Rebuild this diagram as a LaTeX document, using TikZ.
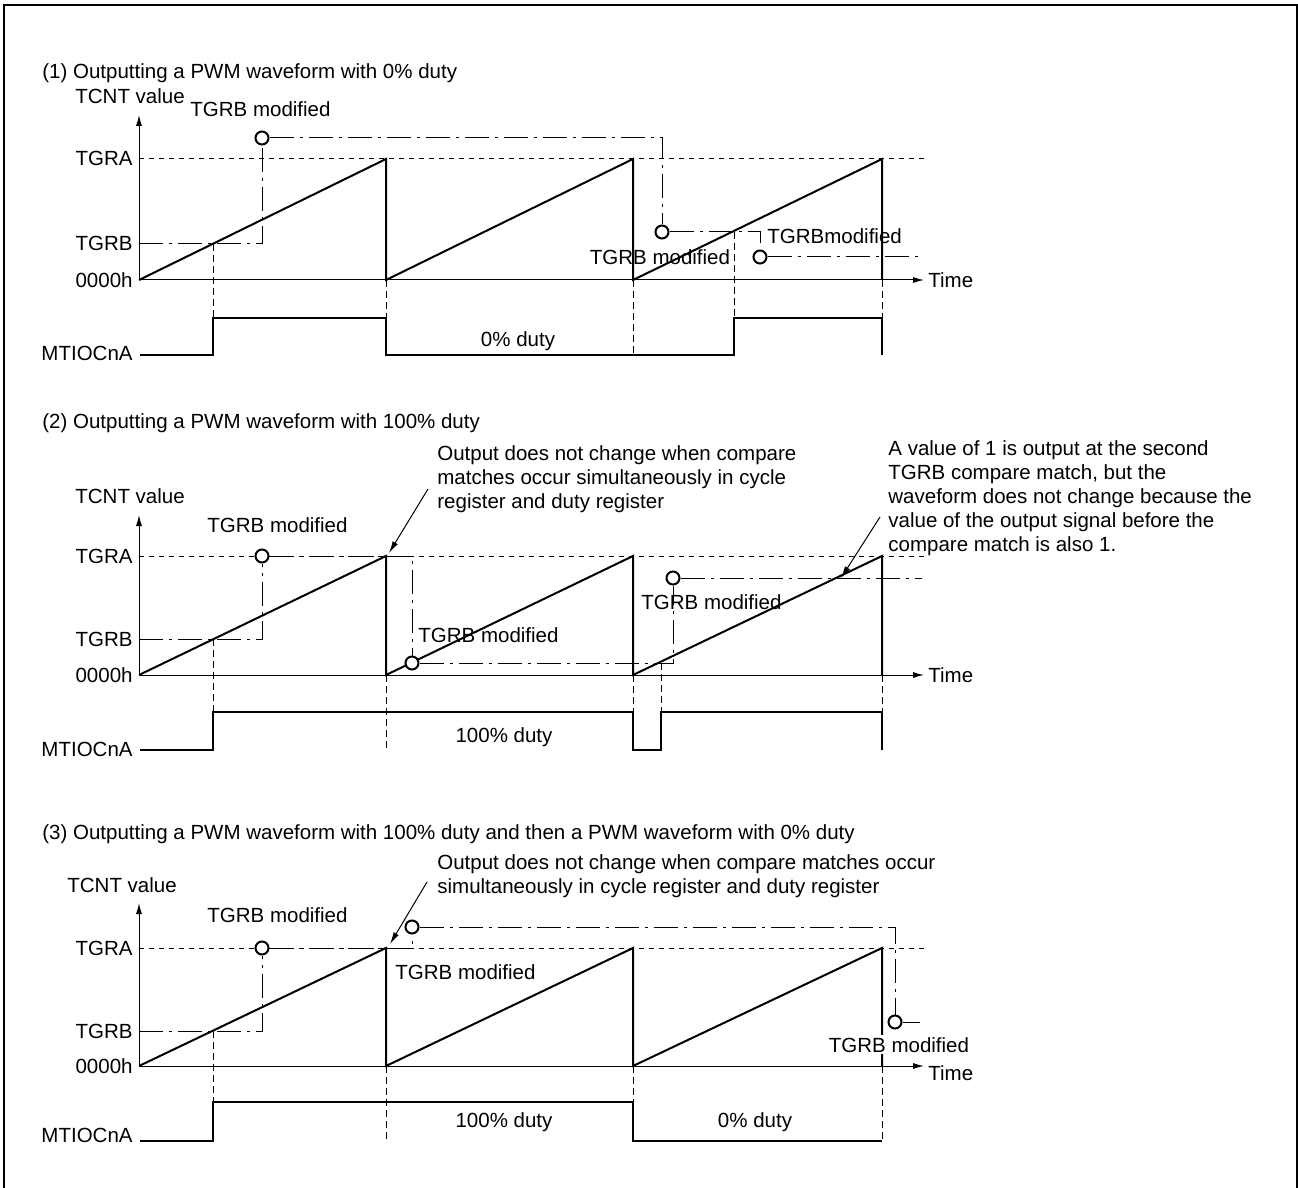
\documentclass[tikz,border=0pt]{standalone}
\usepackage{fontspec}
\setmainfont{Liberation Sans}
\usetikzlibrary{arrows,arrows.meta,positioning,calc}

\begin{document}
\begin{tikzpicture}[
    x=0.5pt, y=-0.5pt,
    every node/.style={inner sep=0pt, font=\fontsize{10.25}{12}\selectfont},
    wave/.style={line width=1pt},
    axis/.style={line width=0.5pt, -{Latex[length=5.5pt,width=3pt]}},
    level/.style={line width=0.5pt, dash pattern=on 2.5pt off 2.5pt},
    guide/.style={line width=0.5pt, dash pattern=on 3.5pt off 2pt},
    modline/.style={line width=0.5pt, dash pattern=on 12pt off 3pt on 1.5pt off 3pt},
    modmark/.style={circle, draw, fill=white, line width=1pt, minimum size=6.5pt},
    note/.style={align=left, anchor=north west},
    notearrow/.style={line width=0.5pt, -{Latex[length=6pt,width=3pt]}}
]
\useasboundingbox (0,0) rectangle (1298,1188);
\draw[line width=1pt] (3.7,5) rectangle (1296.5,1195);

% (1) 0% duty
\node[anchor=base west] (t1) at (42,79) {(1) Outputting a PWM waveform with 0\% duty};
\node[anchor=base west] (v1) at (75,104) {TCNT value};
\node[anchor=base east] (a1) at (133,166) {TGRA};
\node[anchor=base east] (b1) at (133,251) {TGRB};
\node[anchor=base east] (z1) at (133,287) {0000h};
\node[anchor=base east] (o1) at (133,360) {MTIOCnA};
\node[anchor=base west] (tm1) at (928,287) {Time};
\draw[level] (139,159) -- (925,159);
\draw[axis] (139,280) -- (139,115);
\draw[axis] (139,280) -- (924,280);
\draw[wave] (139,280) -- (386,159) -- (386,280) -- (633,159) -- (633,280) -- (882,159) -- (882,280);
\draw[wave] (140,355) -- (213,355) -- (213,318) -- (386,318) -- (386,355) -- (734,355) -- (734,318) -- (882,318) -- (882,355);
\draw[guide] (213,244) -- (213,318) (386,280) -- (386,318) (633,280) -- (633,355) (734,232) -- (734,318) (882,280) -- (882,318);
\node[modmark] (c11) at (262,138) {};
\node[modmark] (c12) at (662,232) {};
\node[modmark] (c13) at (760,257) {};
\draw[modline] (139,244) -| (c11);
\draw[modline] (c11) -| (c12);
\draw[modline] (c12) -| (c13);
\draw[modline] (c13) -- (922,257);
\node[anchor=base west] (m11) at (190,117) {TGRB modified};
\node[anchor=base] (m12) at (660,264) {TGRB modified};
\node[anchor=base west] (m13) at (767,244) {TGRBmodified};
\node[anchor=base] (d1) at (518,347) {0\% duty};

% (2) 100% duty
\node[anchor=base west] (t2) at (42,429) {(2) Outputting a PWM waveform with 100\% duty};
\node[anchor=base west] (v2) at (75,503) {TCNT value};
\node[anchor=base east] (a2) at (133,563) {TGRA};
\node[anchor=base east] (b2) at (133,646) {TGRB};
\node[anchor=base east] (z2) at (133,682) {0000h};
\node[anchor=base east] (o2) at (133,756) {MTIOCnA};
\node[anchor=base west] (tm2) at (928,682) {Time};
\draw[level] (139,556) -- (925,556);
\draw[axis] (139,675) -- (139,515);
\draw[axis] (139,675) -- (924,675);
\draw[wave] (139,675) -- (386,556) -- (386,675) -- (633,556) -- (633,675) -- (882,556) -- (882,675);
\draw[wave] (140,750) -- (213,750) -- (213,712) -- (633,712) -- (633,750) -- (661,750) -- (661,712) -- (882,712) -- (882,750);
\draw[guide] (213,639) -- (213,712) (386,675) -- (386,750) (633,675) -- (633,712) (661,663) -- (661,712) (882,675) -- (882,712);
\node[modmark] (c21) at (262,556) {};
\node[modmark] (c22) at (412,663) {};
\node[modmark] (c23) at (673,578) {};
\draw[modline] (139,639) -| (c21);
\draw[modline] (c21) -| (c22);
\draw[modline] (c22) -| (c23);
\draw[modline] (c23) -- (922,578);
\node[anchor=base west] (m21) at (207,532) {TGRB modified};
\node[anchor=base west] (m22) at (418,642) {TGRB modified};
\node[anchor=base west] (m23) at (641,609) {TGRB modified};
\node[anchor=base] (d2) at (504,742) {100\% duty};
\node[note] (n21) at (437,445) {Output does not change when compare\\matches occur simultaneously in cycle\\register and duty register};
\node[note] (n22) at (888,440) {A value of 1 is output at the second\\TGRB compare match, but the\\waveform does not change because the\\value of the output signal before the\\compare match is also 1.};
\draw[notearrow] (428,489) -- (389,553);
\draw[notearrow] (880,517) -- (841,578);

% (3) 100% duty, then 0% duty
\node[anchor=base west] (t3) at (42,839) {(3) Outputting a PWM waveform with 100\% duty and then a PWM waveform with 0\% duty};
\node[anchor=base west] (v3) at (67,892) {TCNT value};
\node[anchor=base east] (a3) at (133,955) {TGRA};
\node[anchor=base east] (b3) at (133,1038) {TGRB};
\node[anchor=base east] (z3) at (133,1073) {0000h};
\node[anchor=base east] (o3) at (133,1142) {MTIOCnA};
\node[anchor=base west] (tm3) at (928,1080) {Time};
\draw[level] (139,948) -- (925,948);
\draw[axis] (139,1066) -- (139,903);
\draw[axis] (139,1066) -- (924,1066);
\draw[wave] (139,1066) -- (386,948) -- (386,1066) -- (633,948) -- (633,1066) -- (882,948) -- (882,1066);
\draw[wave] (140,1141) -- (213,1141) -- (213,1102) -- (633,1102) -- (633,1141) -- (882,1141);
\draw[guide] (213,1031) -- (213,1102) (386,1066) -- (386,1141) (633,1066) -- (633,1102) (882,1066) -- (882,1141);
\node[modmark] (c31) at (262,948) {};
\node[modmark] (c32) at (412,927) {};
\node[modmark] (c33) at (895,1022) {};
\draw[modline] (139,1031) -| (c31);
\draw[modline] (c31) -| (c32);
\draw[modline] (c32) -| (c33);
\draw[modline] (c33) -- (920,1022);
\node[anchor=base west] (m31) at (207,922) {TGRB modified};
\node[anchor=base west] (m32) at (395,979) {TGRB modified};
\node[anchor=base, fill=white, inner sep=1pt] (m33) at (899,1052) {TGRB modified};
\node[anchor=base] (d3) at (504,1127) {100\% duty};
\node[anchor=base] (d4) at (755,1127) {0\% duty};
\node[note] (n31) at (437,854) {Output does not change when compare matches occur\\simultaneously in cycle register and duty register};
\draw[notearrow] (427,882) -- (390,944);
\end{tikzpicture}
\end{document}
